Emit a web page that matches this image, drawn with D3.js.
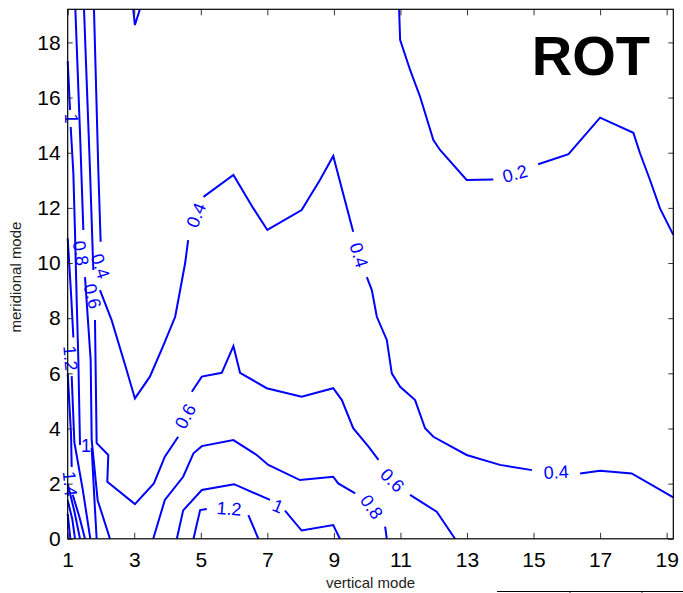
<!DOCTYPE html>
<html><head><meta charset="utf-8">
<script src="https://cdn.jsdelivr.net/npm/d3@7"></script>
<style>body{margin:0;background:#fff;} svg{display:block;}</style>
</head><body>
<script>
// ---- data ----
const xTicks = [1,3,5,7,9,11,13,15,17,19];
const yTicks = [0,2,4,6,8,10,12,14,16,18];
const xDomain = [1, 19.2];
const yDomain = [0, 19.2];

// contour pieces, [vertical mode, meridional mode]; gaps are where labels sit
const level02 = [
  [[10.96,19.2],[10.99,18.09],[11.29,17.0],[11.59,16.03],[11.99,14.46],[12.19,14.10],[12.99,13.01],[13.79,13.03]],
  [[15.14,13.58],[16.05,13.95],[17.0,15.27],[18.0,14.72],[18.2,13.98],[18.5,13.01],[18.8,11.98],[19.2,11.02]]
];
const level04 = [
  [[2.97,19.2],[3.02,18.63],[3.17,19.2]],
  [[1.79,19.2],[1.92,13.37],[1.99,10.77]],
  [[1.97,9.02],[2.32,7.93],[2.77,6.12],[3.02,5.09],[3.47,5.88],[3.86,6.97],[4.23,8.05],[4.38,9.02],[4.53,10.0],[4.62,10.83]],
  [[5.08,12.40],[5.98,13.19],[6.58,11.98],[7.0,11.20],[8.03,11.92],[8.58,13.01],[8.98,13.88],[9.58,11.13]],
  [[9.99,9.49],[10.14,9.02],[10.29,8.05],[10.59,7.21],[10.74,6.0],[10.99,5.51],[11.44,5.03],[11.74,4.01],[11.99,3.70],[12.99,3.04],[13.99,2.68],[14.95,2.49]],
  [[16.40,2.37],[17.0,2.47],[17.95,2.37],[19.2,1.50]]
];
const level06 = [
  [[1.49,19.2],[1.67,13.37],[1.77,9.75]],
  [[1.82,7.93],[1.87,3.47],[2.22,3.04],[2.19,2.07],[3.02,1.26],[3.59,2.01],[3.92,2.98],[4.32,3.70]],
  [[4.73,5.33],[5.03,5.88],[5.63,6.02],[5.98,6.99],[6.18,6.02],[6.98,5.46],[8.03,5.15],[8.98,5.46],[9.24,5.03],[9.58,4.01],[10.04,3.34],[10.34,2.86]],
  [[11.29,1.59],[12.09,0.98],[12.64,0]]
];
const level08 = [
  [[1.23,19.2],[1.37,14.71],[1.47,11.2]],
  [[1.52,9.49],[1.69,6.48],[1.72,3.6],[1.90,1.4],[2.27,0]],
  [[3.57,0],[3.92,1.41],[4.47,2.25],[4.78,3.10],[5.03,3.36],[5.98,3.58],[6.68,3.04],[7.03,2.68],[7.98,2.13],[8.98,2.25],[9.13,2.01],[9.64,1.65]],
  [[10.54,0.44],[10.59,0]]
];
const level10 = [
  [[1,17.32],[1.07,15.55]],
  [[1.09,14.93],[1.17,13.26],[1.22,11.09],[1.27,8.66],[1.32,6.48],[1.37,3.4]],
  [[1.72,3.3],[1.80,1.5],[1.87,0]],
  [[4.28,0],[4.47,1.03],[5.03,1.77],[6.0,1.98],[7.08,1.41]],
  [[7.53,1.02],[8.03,0.30],[8.98,0.50],[9.18,0]]
];
const level12 = [
  [[1,10.9],[1.1,8.9],[1.17,7.3]],
  [[1.12,5.9],[1.2,3.5],[1.45,1.8],[1.68,0]],
  [[4.78,0],[4.98,1.04],[5.18,1.08]],
  [[6.43,0.86],[6.73,0]]
];
const level14 = [
  [[1,6.0],[1.1,3.8],[1.12,2.6]],
  [[1.15,1.6],[1.35,0.8],[1.52,0]]
];
const level16 = [
  [[1,2.0],[1.2,1.0],[1.37,0]]
];
const level18 = [
  [[1,1.4],[1.14,0.7],[1.22,0]]
];
const level20 = [
  [[1,0.9],[1.08,0]]
];

const contourLevels = [0.2,0.4,0.6,0.8,1.0,1.2,1.4,1.6,1.8,2.0];
const contourPieces = [level02,level04,level06,level08,level10,level12,level14,level16,level18,level20];

// inline labels: text, position (data units), rotation in degrees
const labelText  = ["0.2","0.4","0.4","0.4","0.4","0.6","0.6","0.6","0.8","0.8","1","1","1","1.2","1.2","1.4"];
const labelX     = [14.44,1.99,4.85,9.76,15.68,1.75,4.53,10.76,1.40,10.14,1.11,1.55,7.32,1.09,5.85,1.08];
const labelY     = [13.25,9.89,11.74,10.29,2.43,8.80,4.45,2.13,10.36,1.16,15.24,3.37,1.19,6.55,1.10,2.0];
const labelAngle = [-15,72,-68,73,-3,75,-62,45,80,55,90,0,22,85,4,85];

const xTitle = "vertical mode";
const yTitle = "meridional mode";
const panelTitle = "ROT";

// ---- drawing ----
const W = 683, H = 593;
const margin = {left:67.7, right:9.7, top:9.3, bottom:54.2};
const svg = d3.select("body").append("svg").attr("width",W).attr("height",H);

const x = d3.scaleLinear().domain(xDomain).range([margin.left, W-margin.right]);
const y = d3.scaleLinear().domain(yDomain).range([H-margin.bottom, margin.top]);

const line = d3.line().x(d=>x(d[0])).y(d=>y(d[1]));
const blue = "#0000ff";

const g = svg.append("g");
contourPieces.forEach((pieces,i)=>{
  g.selectAll(null).data(pieces).enter().append("path")
    .attr("d", line)
    .attr("fill","none").attr("stroke",blue).attr("stroke-width",2)
    .attr("stroke-linejoin","miter").attr("class","lvl"+contourLevels[i]);
});

g.selectAll("text.clab").data(labelText).enter().append("text")
  .attr("class","clab")
  .attr("transform",(d,i)=>`translate(${x(labelX[i])},${y(labelY[i])}) rotate(${labelAngle[i]})`)
  .attr("text-anchor","middle").attr("dy","0.36em")
  .attr("font-family","Liberation Sans, Arial, sans-serif").attr("font-size",18)
  .attr("fill",blue).text(d=>d);

// axes box
const font = "Liberation Sans, Arial, sans-serif";
const xAxisB = d3.axisBottom(x).tickValues(xTicks).tickSizeInner(-6).tickSizeOuter(0).tickPadding(13);
const xAxisT = d3.axisTop(x).tickValues(xTicks).tickSizeInner(-6).tickSizeOuter(0).tickFormat("");
const yAxisL = d3.axisLeft(y).tickValues(yTicks).tickSizeInner(-5).tickSizeOuter(0).tickPadding(7);
const yAxisR = d3.axisRight(y).tickValues(yTicks).tickSizeInner(-5).tickSizeOuter(0).tickFormat("");

function style(sel){
  sel.select(".domain").remove();
  sel.selectAll(".tick line").attr("stroke","#333").attr("stroke-width",1);
  sel.selectAll(".tick text").attr("font-family",font).attr("font-size",21).attr("fill","#000");
}
svg.append("g").attr("transform",`translate(0,${H-margin.bottom})`).call(xAxisB).call(style);
svg.append("g").attr("transform",`translate(0,${margin.top})`).call(xAxisT).call(style);
svg.append("g").attr("transform",`translate(${margin.left},0)`).call(yAxisL).call(style);
svg.append("g").attr("transform",`translate(${W-margin.right},0)`).call(yAxisR).call(style);

svg.append("rect").attr("x",margin.left).attr("y",margin.top)
  .attr("width",W-margin.left-margin.right).attr("height",H-margin.top-margin.bottom)
  .attr("fill","none").attr("stroke","#000").attr("stroke-width",1.2);

svg.append("text").attr("x",(margin.left+W-margin.right)/2).attr("y",588)
  .attr("text-anchor","middle").attr("font-family",font).attr("font-size",15).attr("fill","#222").text(xTitle);
svg.append("text").attr("transform",`translate(21,${(margin.top+H-margin.bottom)/2 + 3}) rotate(-90)`)
  .attr("text-anchor","middle").attr("font-family",font).attr("font-size",15).attr("fill","#222").text(yTitle);

svg.append("text").attr("x",650).attr("y",75).attr("text-anchor","end")
  .attr("font-family",font).attr("font-weight","bold").attr("font-size",56).attr("fill","#000").text(panelTitle);

// fragment of the neighbouring panel at the bottom-right edge
svg.append("line").attr("x1",497).attr("x2",W).attr("y1",591.5).attr("y2",591.5).attr("stroke","#000").attr("stroke-width",1);
[570,642].forEach(px=>svg.append("line").attr("x1",px).attr("x2",px).attr("y1",591.5).attr("y2",H).attr("stroke","#333"));
</script>
</body></html>
